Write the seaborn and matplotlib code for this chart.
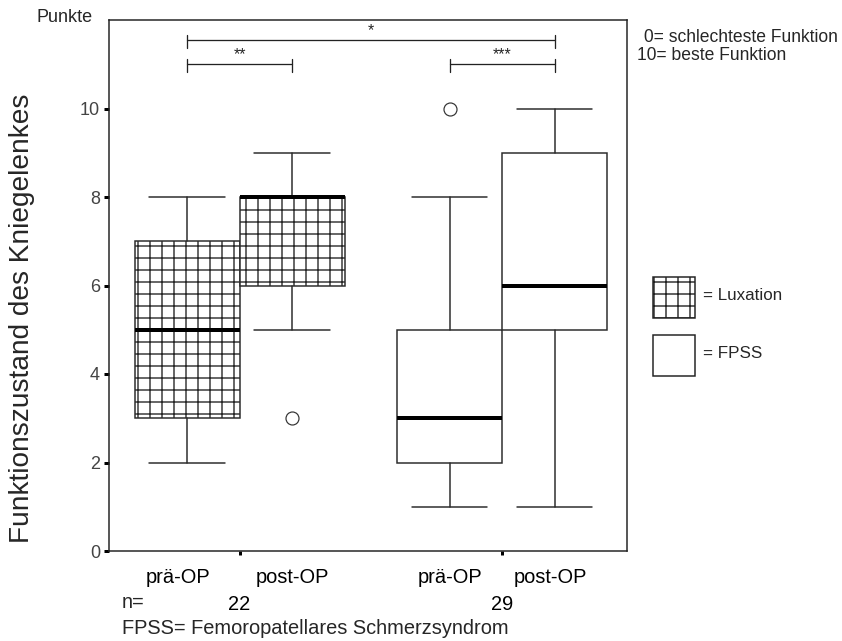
import matplotlib.pyplot as plt
import seaborn as sns
from matplotlib.patches import Rectangle

# box statistics (Luxation pre/post, FPSS pre/post)
groups = ['Luxation', 'Luxation', 'FPSS', 'FPSS']
box_labels = ['prä-OP', 'post-OP', 'prä-OP', 'post-OP']
positions = [0, 1, 2.5, 3.5]
whislo = [2, 5, 1, 1]
q1 = [3, 6, 2, 5]
med = [5, 8, 3, 6]
q3 = [7, 8, 5, 9]
whishi = [8, 9, 8, 10]
fliers = [[], [3], [10], []]
group_centers = [0.5, 3.0]
n_counts = ['22', '29']
yticks = [0, 2, 4, 6, 8, 10]
# significance brackets: (from box, to box, label)
brackets = [(0, 3, '*'), (0, 1, '**'), (2, 3, '***')]

sns.set_theme(style='white')
plt.rcParams['font.family'] = ['Liberation Sans', 'DejaVu Sans']
plt.rcParams['hatch.linewidth'] = 1.4
plt.rcParams['hatch.color'] = '#222222'

fig = plt.figure(figsize=(842 / 72, 641 / 72), dpi=72)
ax = fig.add_axes([109 / 842, 1 - 551 / 641, (627 - 109) / 842, (551 - 20) / 641])

stats = []
for i in range(len(positions)):
    stats.append(dict(whislo=whislo[i], q1=q1[i], med=med[i], q3=q3[i],
                      whishi=whishi[i], fliers=fliers[i]))

bp = ax.bxp(stats, positions=positions, widths=1.0, patch_artist=True,
            boxprops=dict(facecolor='white', edgecolor='#2a2a2a', linewidth=1.5),
            medianprops=dict(color='black', linewidth=4, solid_capstyle='butt'),
            whiskerprops=dict(color='#2a2a2a', linewidth=1.5),
            capprops=dict(color='#2a2a2a', linewidth=1.5),
            capwidths=0.72,
            flierprops=dict(marker='o', markersize=13, markerfacecolor='none',
                            markeredgecolor='#333333', markeredgewidth=1.2))
for patch, g in zip(bp['boxes'], groups):
    if g == 'Luxation':
        patch.set_hatch('+')

ax.set_xlim(-0.743, 4.19)
ax.set_ylim(0, 12.0)
ax.set_yticks(yticks)
ax.set_yticklabels([str(t) for t in yticks], fontsize=18, color='#444444')
ax.set_xticks(group_centers)
ax.set_xticklabels(n_counts, fontsize=20, color='black')
ax.tick_params(axis='y', direction='out', length=5, width=3, color='black', pad=4, left=True)
ax.tick_params(axis='x', direction='out', length=4, width=3, color='black', pad=40, bottom=True)
for s in ax.spines.values():
    s.set_color('#222222')
    s.set_linewidth(1.5)

label_shift = [-0.09, 0, 0, -0.04]
for p, d, lab in zip(positions, label_shift, box_labels):
    ax.text(p + d, -0.61, lab, ha='center', va='center', fontsize=20, color='black')

fig.text(22 / 842, 1 - 318 / 641, 'Funktionszustand des Kniegelenkes', rotation=90,
         ha='center', va='center', fontsize=28)

# significance brackets
levels = {'*': 11.55, '**': 11.0, '***': 11.0}
for a, b, lab in brackets:
    y = levels[lab]
    xa, xb = positions[a], positions[b]
    ax.plot([xa, xb], [y, y], color='#222222', lw=1.3)
    ax.plot([xa, xa], [y - 0.18, y + 0.12], color='#222222', lw=1.3)
    ax.plot([xb, xb], [y - 0.18, y + 0.12], color='#222222', lw=1.3)
    ax.text((xa + xb) / 2, y + 0.05, lab, ha='center', va='bottom', fontsize=16)

fig.text(37 / 842, 1 - 18 / 641, 'Punkte', ha='left', va='center', fontsize=18)
fig.text(644 / 842, 1 - 37 / 641, '0= schlechteste Funktion', ha='left', va='center', fontsize=17.5)
fig.text(637 / 842, 1 - 56 / 641, '10= beste Funktion', ha='left', va='center', fontsize=17.5)
fig.text(122 / 842, 1 - 603 / 641, 'n=', ha='left', va='center', fontsize=20)
fig.text(122 / 842, 1 - 628 / 641, 'FPSS= Femoropatellares Schmerzsyndrom',
         ha='left', va='center', fontsize=20)

# legend squares
for ytop, hatch, lab in [(277, '+', '= Luxation'), (335, None, '= FPSS')]:
    r = Rectangle((653 / 842, 1 - (ytop + 41) / 641), 42 / 842, 41 / 641,
                  transform=fig.transFigure, facecolor='white', edgecolor='#222222',
                  linewidth=1.5, hatch=hatch)
    fig.patches.append(r)
    fig.text(703 / 842, 1 - (ytop + 19) / 641, lab, ha='left', va='center', fontsize=17)

fig.savefig('out.png', dpi=72)
